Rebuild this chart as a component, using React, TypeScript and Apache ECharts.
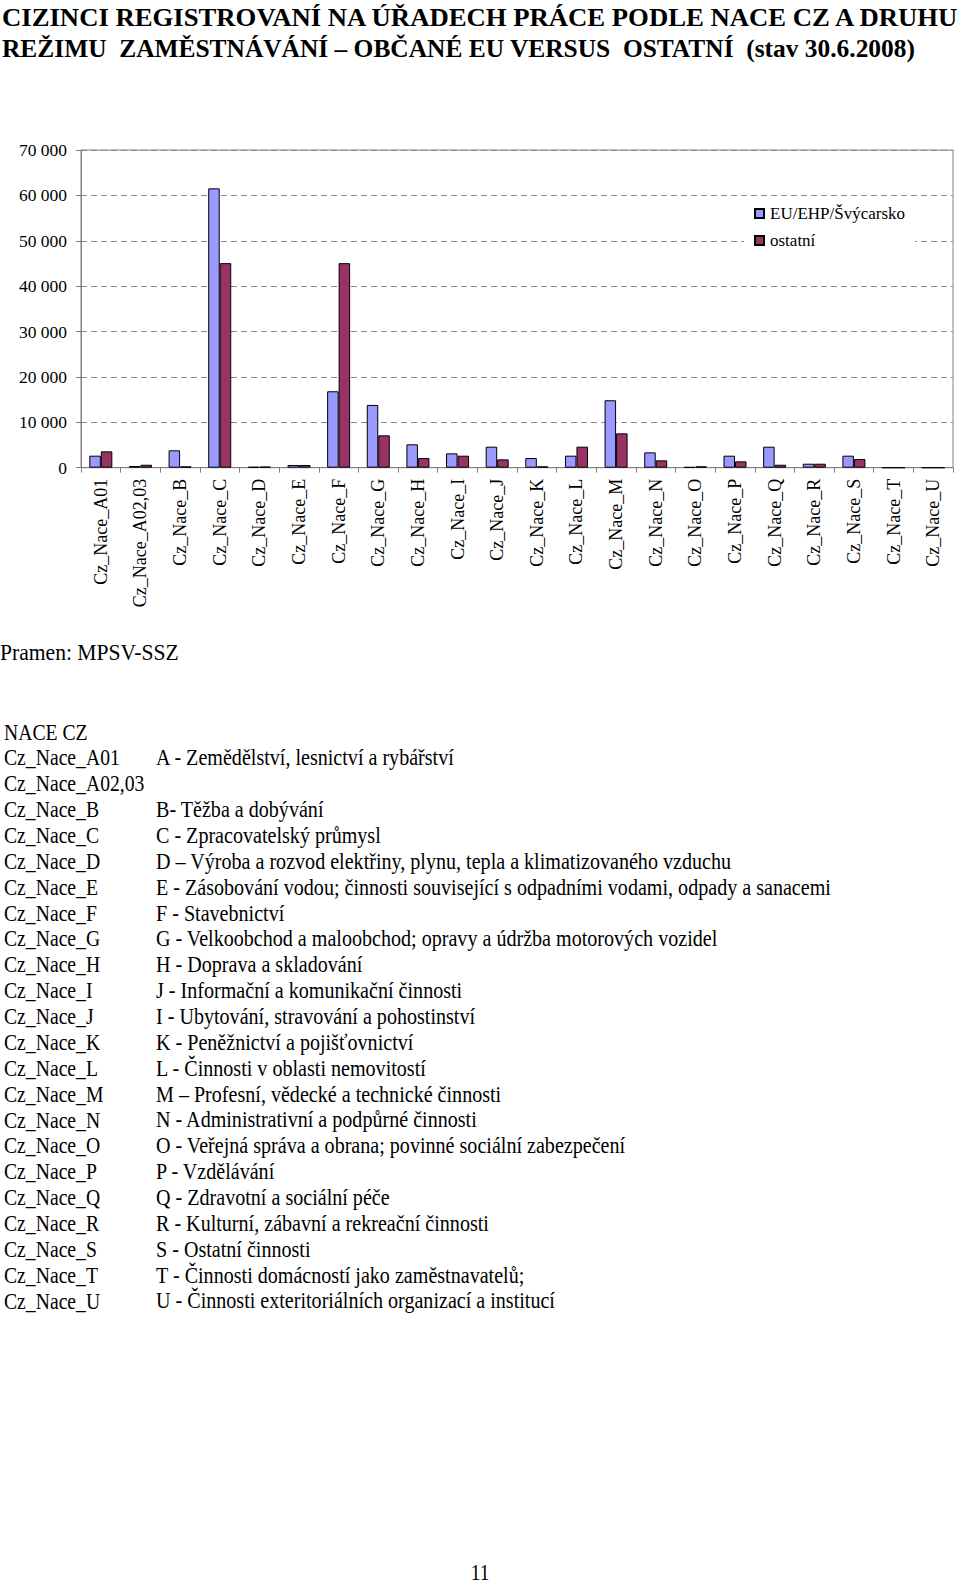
import React, { useEffect, useRef } from "react";
import * as echarts from "echarts";

const titleLines = [
  "CIZINCI REGISTROVANÍ NA ÚŘADECH PRÁCE PODLE NACE CZ A DRUHU",
  "REŽIMU  ZAMĚSTNÁVÁNÍ – OBČANÉ EU VERSUS  OSTATNÍ  (stav 30.6.2008)",
];
const titleScales = [1.027, 0.978];

const categories = [
  "Cz_Nace_A01", "Cz_Nace_A02,03", "Cz_Nace_B", "Cz_Nace_C", "Cz_Nace_D", "Cz_Nace_E",
  "Cz_Nace_F", "Cz_Nace_G", "Cz_Nace_H", "Cz_Nace_I", "Cz_Nace_J", "Cz_Nace_K",
  "Cz_Nace_L", "Cz_Nace_M", "Cz_Nace_N", "Cz_Nace_O", "Cz_Nace_P", "Cz_Nace_Q",
  "Cz_Nace_R", "Cz_Nace_S", "Cz_Nace_T", "Cz_Nace_U",
];

const seriesNames = ["EU/EHP/Švýcarsko", "ostatní"];

const euValues = [
  2650, 370, 3830, 61550, 200, 600, 16840, 13830, 5150, 3160, 4630, 2130,
  2650, 14860, 3380, 150, 2650, 4630, 880, 2650, 0, 0,
];

const otherValues = [
  3600, 650, 300, 45070, 250, 600, 45070, 7130, 2130, 2650, 1840, 300,
  4630, 7570, 1620, 300, 1400, 650, 880, 1910, 0, 0,
];

const yMax = 70000;
const yInterval = 10000;

const sourceText = "Pramen: MPSV-SSZ";
const tableHeader = "NACE CZ";
const descriptions = [
  "A - Zemědělství, lesnictví a rybářství",
  "",
  "B- Těžba a dobývání",
  "C - Zpracovatelský průmysl",
  "D – Výroba a rozvod elektřiny, plynu, tepla a klimatizovaného vzduchu",
  "E - Zásobování vodou; činnosti související s odpadními vodami, odpady a sanacemi",
  "F - Stavebnictví",
  "G - Velkoobchod a maloobchod; opravy a údržba motorových vozidel",
  "H - Doprava a skladování",
  "J - Informační a komunikační činnosti",
  "I - Ubytování, stravování a pohostinství",
  "K - Peněžnictví a pojišťovnictví",
  "L - Činnosti v oblasti nemovitostí",
  "M – Profesní, vědecké a technické činnosti",
  "N - Administrativní a podpůrné činnosti",
  "O - Veřejná správa a obrana; povinné sociální zabezpečení",
  "P - Vzdělávání",
  "Q - Zdravotní a sociální péče",
  "R - Kulturní, zábavní a rekreační činnosti",
  "S - Ostatní činnosti",
  "T - Činnosti domácností jako zaměstnavatelů;",
  "U - Činnosti exteritoriálních organizací a institucí",
];
const pageNumber = "11";

const SERIF = '"Liberation Serif", "Times New Roman", serif';

function fmt(v: number): string {
  return String(v).replace(/\B(?=(\d{3})+(?!\d))/g, " ");
}

function txt(x: number, y: number, text: string, font: string, scaleX: number, align = "left", valign = "middle") {
  return {
    type: "text",
    x,
    y,
    scaleX,
    style: {
      text,
      font,
      fill: "#000",
      textAlign: align,
      textVerticalAlign: valign,
    },
  };
}

function buildGraphics() {
  const els: any[] = [];
  titleLines.forEach((t, i) => {
    els.push(txt(2, 18 + i * 30, t, `bold 26px ${SERIF}`, titleScales[i]));
  });
  els.push(txt(0, 652, sourceText, `24px ${SERIF}`, 0.9));
  const rowTop = 731.4;
  const rowStep = 25.86;
  els.push(txt(4, rowTop, tableHeader, `24px ${SERIF}`, 0.82));
  categories.forEach((c, i) => {
    const y = rowTop + (i + 1) * rowStep;
    els.push(txt(4, y, c, `24px ${SERIF}`, 0.82));
    if (descriptions[i]) {
      els.push(txt(156, y, descriptions[i], `24px ${SERIF}`, 0.837));
    }
  });
  els.push(txt(480, 1584, pageNumber, `24px ${SERIF}`, 0.8, "center", "bottom"));
  return els;
}

export default function App() {
  const ref = useRef<HTMLDivElement>(null);
  useEffect(() => {
    document.body.style.margin = "0";
    if (!ref.current) return;
    const chart = echarts.init(ref.current, null, { renderer: "svg" });
    chart.setOption({
      animation: false,
      backgroundColor: "#fff",
      textStyle: { fontFamily: SERIF },
      grid: {
        left: 81,
        right: 7,
        top: 150,
        bottom: 1118.3,
        show: true,
        borderColor: "#808080",
        borderWidth: 1,
        containLabel: false,
      },
      legend: {
        data: seriesNames,
        orient: "vertical",
        left: 744,
        top: 200,
        padding: [5, 10, 5, 10],
        backgroundColor: "#fff",
        icon: "rect",
        itemWidth: 9,
        itemHeight: 9,
        itemGap: 10,
        textStyle: {
          fontFamily: SERIF,
          fontSize: 17,
          color: "#000",
          padding: [0, 0, 0, 1],
        },
      },
      xAxis: {
        type: "category",
        data: categories,
        axisLine: { lineStyle: { color: "#808080", width: 1 } },
        axisTick: { show: true, length: 5, lineStyle: { color: "#808080" } },
        axisLabel: {
          rotate: 90,
          margin: 11,
          interval: 0,
          fontFamily: SERIF,
          fontSize: 18,
          color: "#000",
        },
        splitLine: { show: false },
      },
      yAxis: {
        type: "value",
        min: 0,
        max: yMax,
        interval: yInterval,
        axisLine: { show: true, lineStyle: { color: "#808080", width: 1 } },
        axisTick: { show: true, length: 5, lineStyle: { color: "#808080" } },
        axisLabel: {
          margin: 14,
          fontFamily: SERIF,
          fontSize: 17.5,
          color: "#000",
          formatter: (v: number) => fmt(v),
        },
        splitLine: {
          show: true,
          lineStyle: { color: "#8c8c8c", type: [6, 4], width: 1 },
        },
      },
      series: [
        {
          name: seriesNames[0],
          type: "bar",
          data: euValues,
          barWidth: 11.5,
          barGap: "0%",
          itemStyle: { color: "#9999FF", borderColor: "#000000", borderWidth: 1 },
        },
        {
          name: seriesNames[1],
          type: "bar",
          data: otherValues,
          barWidth: 11.5,
          barGap: "0%",
          itemStyle: { color: "#993366", borderColor: "#000000", borderWidth: 1 },
        },
      ],
      graphic: buildGraphics(),
    });
    return () => chart.dispose();
  }, []);
  return <div ref={ref} style={{ width: 960, height: 1586 }} />;
}
